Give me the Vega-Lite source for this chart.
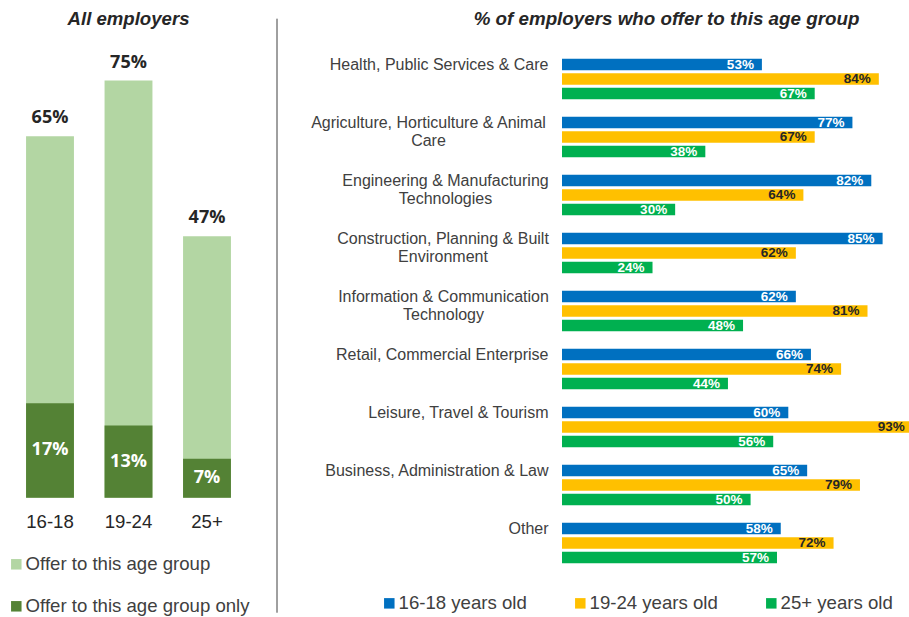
{
  "$schema": "https://vega.github.io/schema/vega-lite/v6.json",
  "padding": {"left": 0, "top": 10, "right": 0, "bottom": 0},
  "background": "white",
  "bounds": "flush",
  "spacing": 20,
  "resolve": {"scale": {"color": "independent", "x": "independent", "y": "independent"}, "legend": {"color": "independent"}},
  "config": {"view": {"stroke": null}, "font": "Liberation Sans"},
  "datasets": {
    "all": [
      {"age": "16-18", "series": "Offer to this age group", "value": 65},
      {"age": "19-24", "series": "Offer to this age group", "value": 75},
      {"age": "25+", "series": "Offer to this age group", "value": 47},
      {"age": "16-18", "series": "Offer to this age group only", "value": 17},
      {"age": "19-24", "series": "Offer to this age group only", "value": 13},
      {"age": "25+", "series": "Offer to this age group only", "value": 7}
    ],
    "sector": [
      {"sector": "Health, Public Services & Care", "series": "16-18 years old", "value": 53},
      {"sector": "Health, Public Services & Care", "series": "19-24 years old", "value": 84},
      {"sector": "Health, Public Services & Care", "series": "25+ years old", "value": 67},
      {"sector": "Agriculture, Horticulture  & Animal|Care", "series": "16-18 years old", "value": 77},
      {"sector": "Agriculture, Horticulture  & Animal|Care", "series": "19-24 years old", "value": 67},
      {"sector": "Agriculture, Horticulture  & Animal|Care", "series": "25+ years old", "value": 38},
      {"sector": "Engineering & Manufacturing|Technologies", "series": "16-18 years old", "value": 82},
      {"sector": "Engineering & Manufacturing|Technologies", "series": "19-24 years old", "value": 64},
      {"sector": "Engineering & Manufacturing|Technologies", "series": "25+ years old", "value": 30},
      {"sector": "Construction, Planning & Built|Environment", "series": "16-18 years old", "value": 85},
      {"sector": "Construction, Planning & Built|Environment", "series": "19-24 years old", "value": 62},
      {"sector": "Construction, Planning & Built|Environment", "series": "25+ years old", "value": 24},
      {"sector": "Information & Communication|Technology", "series": "16-18 years old", "value": 62},
      {"sector": "Information & Communication|Technology", "series": "19-24 years old", "value": 81},
      {"sector": "Information & Communication|Technology", "series": "25+ years old", "value": 48},
      {"sector": "Retail, Commercial Enterprise", "series": "16-18 years old", "value": 66},
      {"sector": "Retail, Commercial Enterprise", "series": "19-24 years old", "value": 74},
      {"sector": "Retail, Commercial Enterprise", "series": "25+ years old", "value": 44},
      {"sector": "Leisure, Travel & Tourism", "series": "16-18 years old", "value": 60},
      {"sector": "Leisure, Travel & Tourism", "series": "19-24 years old", "value": 93},
      {"sector": "Leisure, Travel & Tourism", "series": "25+ years old", "value": 56},
      {"sector": "Business, Administration & Law", "series": "16-18 years old", "value": 65},
      {"sector": "Business, Administration & Law", "series": "19-24 years old", "value": 79},
      {"sector": "Business, Administration & Law", "series": "25+ years old", "value": 50},
      {"sector": "Other", "series": "16-18 years old", "value": 58},
      {"sector": "Other", "series": "19-24 years old", "value": 72},
      {"sector": "Other", "series": "25+ years old", "value": 57}
    ]
  },
  "hconcat": [
    {
      "width": 257,
      "height": 447.75,
      "title": {"text": "All employers", "fontSize": 18.6, "fontWeight": "bold", "fontStyle": "italic", "color": "#262626", "offset": 21, "font": "Liberation Sans"},
      "data": {"name": "all"},
      "transform": [
        {"calculate": "datum.value + '%'", "as": "label"},
        {"calculate": "datum.value / 2", "as": "mid"}
      ],
      "encoding": {
        "x": {
          "field": "age", "type": "nominal", "sort": ["16-18", "19-24", "25+"],
          "scale": {"paddingInner": 0.39, "paddingOuter": 0.332},
          "axis": {"title": null, "labelAngle": 0, "domain": false, "ticks": false, "labelFontSize": 18.6, "labelColor": "#262626", "labelPadding": 15}
        }
      },
      "layer": [
        {
          "mark": {"type": "bar"},
          "encoding": {
            "y": {"field": "value", "type": "quantitative", "stack": null, "scale": {"domain": [0, 80.5], "nice": false}, "axis": null},
            "color": {
              "field": "series", "type": "nominal",
              "scale": {"domain": ["Offer to this age group", "Offer to this age group only"], "range": ["#B3D6A3", "#548235"]},
              "legend": {"orient": "none", "legendX": 7, "legendY": 505, "padding": 0, "direction": "vertical", "title": null, "symbolType": "square", "symbolSize": 110, "symbolStrokeWidth": 0, "labelOffset": 0, "labelFontSize": 18.6, "labelColor": "#404040", "rowPadding": 23, "labelLimit": 400}
            }
          }
        },
        {
          "transform": [{"filter": "datum.series == 'Offer to this age group'"}],
          "mark": {"type": "text", "baseline": "bottom", "dy": -9, "fontSize": 18, "fontWeight": "bold", "font": "Open Sans", "color": "#262626"},
          "encoding": {
            "y": {"field": "value", "type": "quantitative"},
            "text": {"field": "label", "type": "nominal"}
          }
        },
        {
          "transform": [{"filter": "datum.series == 'Offer to this age group only'"}],
          "mark": {"type": "text", "baseline": "middle", "fontSize": 18, "fontWeight": "bold", "font": "Open Sans", "color": "white"},
          "encoding": {
            "y": {"field": "mid", "type": "quantitative"},
            "text": {"field": "label", "type": "nominal"}
          }
        }
      ]
    },
    {
      "width": 265,
      "height": 522,
      "data": {"values": [{"divider": 1}]},
      "mark": {"type": "rule", "color": "#404040", "strokeWidth": 1, "clip": false},
      "encoding": {
        "x": {"datum": 0, "type": "quantitative", "scale": {"domain": [0, 1], "nice": false}, "axis": null},
        "y": {"datum": -0.078, "type": "quantitative", "scale": {"domain": [0, 1], "nice": false}, "axis": null},
        "y2": {"datum": 1.06}
      }
    },
    {
      "width": 347,
      "height": 522,
      "title": {"text": "% of employers who offer to this age group", "fontSize": 18.8, "fontWeight": "bold", "fontStyle": "italic", "color": "#262626", "offset": 21, "dx": -69, "font": "Liberation Sans"},
      "data": {"name": "sector"},
      "transform": [{"calculate": "datum.value + '%'", "as": "label"}],
      "encoding": {
        "y": {
          "field": "sector", "type": "nominal", "sort": null,
          "scale": {"paddingInner": 0.25, "paddingOuter": 0.125},
          "axis": {
            "title": null, "domain": false, "ticks": false, "labelOffset": -14.5,
            "labelBaseline": "middle", "labelFontSize": 16, "labelColor": "#404040", "labelLimit": 400,
            "labelLineHeight": 18, "labelExpr": "split(datum.label, '|')",
            "labelAlign": {"condition": {"test": "indexof(datum.value, '|') >= 0", "value": "center"}, "value": "right"},
            "labelPadding": {
              "condition": [
                {"test": "indexof(datum.value, 'Agriculture') == 0", "value": 134},
                {"test": "indexof(datum.value, 'Engineering') == 0", "value": 117},
                {"test": "indexof(datum.value, 'Construction') == 0", "value": 119.5},
                {"test": "indexof(datum.value, 'Information') == 0", "value": 119}
              ],
              "value": 14
            }
          }
        },
        "yOffset": {"field": "series", "type": "nominal", "sort": ["16-18 years old", "19-24 years old", "25+ years old"], "scale": {"paddingInner": 0.2, "paddingOuter": 0.1}},
        "x": {"field": "value", "type": "quantitative", "scale": {"domain": [0, 92], "nice": false}, "axis": null}
      },
      "layer": [
        {
          "mark": {"type": "bar", "clip": false},
          "encoding": {
            "color": {
              "field": "series", "type": "nominal",
              "scale": {"domain": ["16-18 years old", "19-24 years old", "25+ years old"], "range": ["#0070C0", "#FFC000", "#00B050"]},
              "legend": {"orient": "none", "legendX": -182, "legendY": 544, "padding": 0, "direction": "horizontal", "title": null, "symbolType": "square", "symbolSize": 110, "symbolStrokeWidth": 0, "labelOffset": 0, "labelFontSize": 18.6, "labelColor": "#404040", "columnPadding": 44, "labelLimit": 400}
            }
          }
        },
        {
          "mark": {"type": "text", "align": "right", "baseline": "middle", "dx": -8, "fontSize": 13.5, "fontWeight": "bold"},
          "encoding": {
            "text": {"field": "label", "type": "nominal"},
            "color": {"condition": {"test": "datum.series == '19-24 years old'", "value": "#262626"}, "value": "white"}
          }
        }
      ]
    }
  ]
}
